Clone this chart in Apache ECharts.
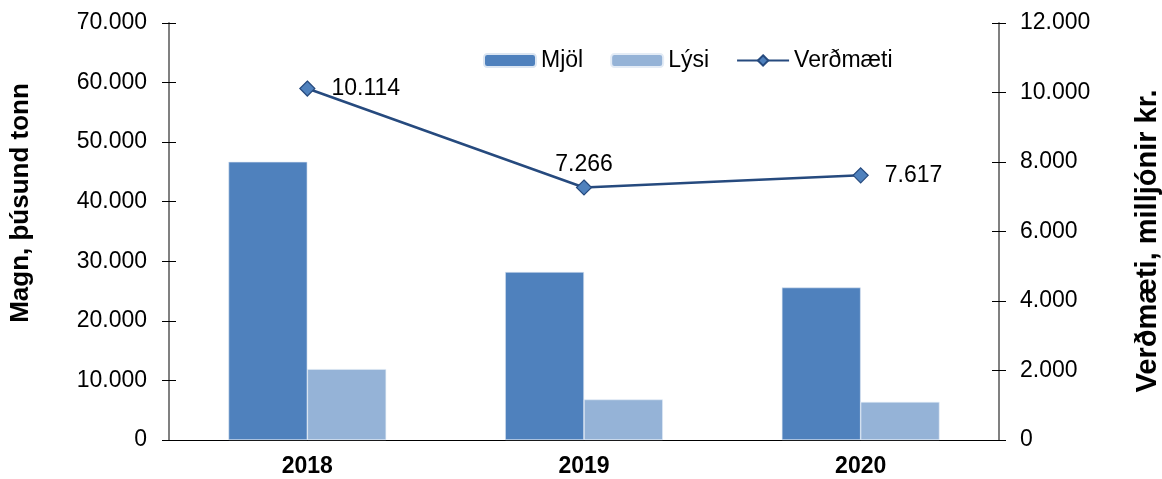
<!DOCTYPE html>
<html>
<head>
<meta charset="utf-8">
<script src="https://cdn.jsdelivr.net/npm/echarts@6/dist/echarts.min.js"></script>
<style>
  html, body { margin: 0; padding: 0; background: #fff; }
  #chart { width: 1162px; height: 479px; }
</style>
</head>
<body>
<div id="chart"></div>
<script>
// gögn
const years = ['2018', '2019', '2020'];
const mjol = [46700, 28200, 25600];
const lysi = [11900, 6800, 6400];
const verdmaeti = [10114, 7266, 7617];
const verdLabelPos = ['right', 'top', 'right'];

(function () {
  let mychart = echarts.init(document.getElementById('chart'))
  let fmt = function (v) {
    return v === 0 ? '0' : (v / 1000).toFixed(3)
  }
  let font = 'Liberation Sans, Arial, sans-serif'
  let tickStyle = { color: '#000', width: 1 }

  let option = {
    animation: false,
    textStyle: { fontFamily: font },
    grid: { left: 169, right: 163, top: 23, bottom: 39, outerBoundsMode: 'none', containLabel: false },
    // ásaheiti
    graphic: [
      {
        type: 'text',
        x: 21,
        y: 203,
        rotation: Math.PI / 2,
        style: {
          text: 'Magn, þúsund tonn',
          font: 'bold 26px Liberation Sans, Arial, sans-serif',
          fill: '#000',
          align: 'center',
          verticalAlign: 'middle'
        }
      },
      {
        type: 'text',
        x: 1148,
        y: 241,
        rotation: Math.PI / 2,
        style: {
          text: 'Verðmæti, milljónir kr.',
          font: 'bold 29px Liberation Sans, Arial, sans-serif',
          fill: '#000',
          align: 'center',
          verticalAlign: 'middle'
        }
      }
    ],
    legend: {
      left: 478,
      top: 44,
      itemWidth: 52,
      itemHeight: 13,
      itemGap: 27,
      textStyle: { fontSize: 23, color: '#000', fontFamily: font },
      data: ['Mjöl', 'Lýsi', 'Verðmæti']
    },
    xAxis: [
      {
        type: 'category',
        data: years,
        axisLine: { lineStyle: { color: '#000', width: 1 } },
        axisTick: { inside: false, length: 7, lineStyle: tickStyle },
        axisLabel: { fontSize: 23, fontWeight: 'bold', color: '#000', margin: 15, fontFamily: font }
      },
      {
        // innri strik (kross)
        type: 'category',
        data: years,
        position: 'bottom',
        axisLine: { show: false },
        axisTick: { inside: true, length: 7, lineStyle: tickStyle },
        axisLabel: { show: false }
      }
    ],
    yAxis: [
      {
        type: 'value',
        min: 0,
        max: 70000,
        interval: 10000,
        axisLine: { show: true, lineStyle: { color: '#808080', width: 2 } },
        axisTick: { show: true, inside: false, length: 7, lineStyle: tickStyle },
        axisLabel: { formatter: fmt, fontSize: 23, color: '#000', margin: 22, fontFamily: font },
        splitLine: { show: false }
      },
      {
        type: 'value',
        min: 0,
        max: 12000,
        interval: 2000,
        position: 'right',
        axisLine: { show: true, lineStyle: { color: '#808080', width: 2 } },
        axisTick: { show: true, inside: false, length: 7, lineStyle: tickStyle },
        axisLabel: { formatter: fmt, fontSize: 23, color: '#000', margin: 21, fontFamily: font },
        splitLine: { show: false }
      },
      {
        type: 'value',
        min: 0,
        max: 70000,
        interval: 10000,
        position: 'left',
        axisLine: { show: false },
        axisTick: { show: true, inside: true, length: 7, lineStyle: tickStyle },
        axisLabel: { show: false },
        splitLine: { show: false }
      },
      {
        type: 'value',
        min: 0,
        max: 12000,
        interval: 2000,
        position: 'right',
        axisLine: { show: false },
        axisTick: { show: true, inside: true, length: 7, lineStyle: tickStyle },
        axisLabel: { show: false },
        splitLine: { show: false }
      }
    ],
    series: [
      {
        name: 'Mjöl',
        type: 'bar',
        data: mjol,
        barGap: '0%',
        barCategoryGap: '43%',
        itemStyle: { color: '#4F81BD', borderColor: '#dce6f2', borderWidth: 0.6 }
      },
      {
        name: 'Lýsi',
        type: 'bar',
        data: lysi,
        itemStyle: { color: '#95B3D7', borderColor: '#e4ecf6', borderWidth: 0.6 }
      },
      {
        name: 'Verðmæti',
        type: 'line',
        yAxisIndex: 1,
        data: verdmaeti.map(function (v, i) {
          return {
            value: v,
            label: { position: verdLabelPos[i], distance: verdLabelPos[i] === 'top' ? 3 : 16 }
          }
        }),
        symbol: 'diamond',
        symbolSize: 15,
        lineStyle: { color: '#264A7E', width: 2.5 },
        itemStyle: { color: '#4F81BD', borderColor: '#264A7E', borderWidth: 1.2 },
        label: {
          show: true,
          fontSize: 23,
          color: '#000',
          fontFamily: font,
          formatter: function (p) { return fmt(p.value) }
        }
      }
    ]
  }
  mychart.setOption(option)
  window.addEventListener('resize', function () {
    mychart.resize()
  })
})();
</script>
</body>
</html>
